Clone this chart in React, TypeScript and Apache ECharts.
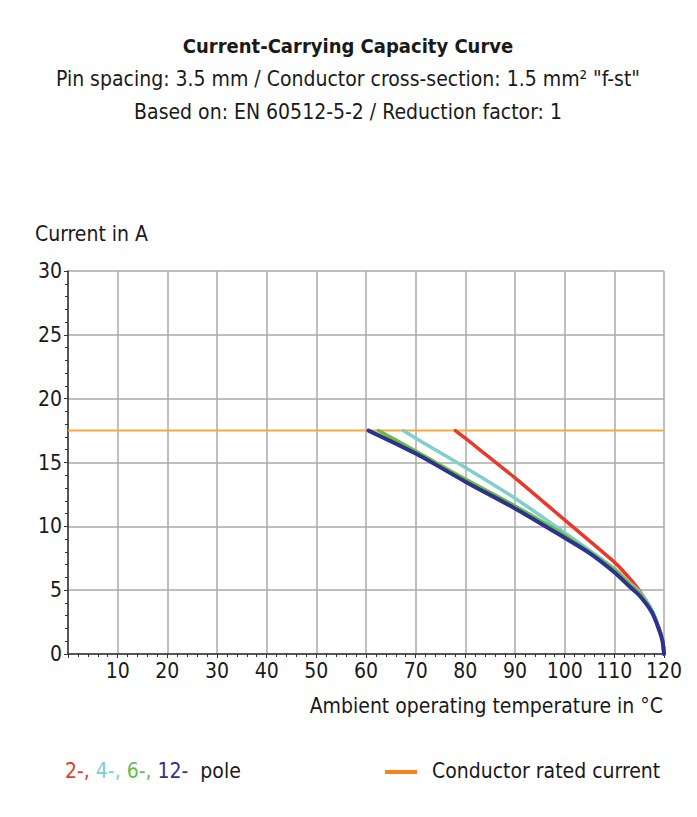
import React, { useEffect, useRef } from "react";
import * as echarts from "echarts";

const FONT = "'Liberation Sans Narrow', 'DejaVu Sans Condensed', 'Roboto', sans-serif";

const titleLines = [
  "Current-Carrying Capacity Curve",
  "Pin spacing: 3.5 mm / Conductor cross-section: 1.5 mm² \"f-st\"",
  "Based on: EN 60512-5-2 / Reduction factor: 1",
];

const xTicks = [0, 10, 20, 30, 40, 50, 60, 70, 80, 90, 100, 110, 120];
const yTicks = [0, 5, 10, 15, 20, 25, 30];

const ratedCurrent = 17.5;
const ratedTemps = [0, 120];

const pole2Temps = [78, 80, 90, 100, 110, 112, 115, 117.5, 119, 119.7, 120];
const pole2Current = [17.5, 16.9, 13.8, 10.5, 7.2, 6.4, 5.0, 3.4, 2.0, 1.1, 0];

const pole4Temps = [67.5, 70, 80, 90, 100, 110, 113, 115, 117.5, 119, 119.7, 120];
const pole4Current = [17.5, 16.9, 14.6, 12.2, 9.5, 6.7, 5.6, 4.9, 3.5, 2.0, 1.1, 0];

const pole6Temps = [62.5, 70, 80, 90, 100, 110, 113, 115, 117.5, 119, 119.7, 120];
const pole6Current = [17.5, 15.9, 13.7, 11.6, 9.3, 6.6, 5.5, 4.8, 3.4, 2.0, 1.1, 0];

const pole12Temps = [60.5, 70, 80, 90, 100, 105, 110, 113, 115, 117.5, 119, 119.7, 120];
const pole12Current = [17.5, 15.7, 13.5, 11.4, 9.1, 7.9, 6.4, 5.3, 4.6, 3.3, 1.9, 1.0, 0];

const zip = (xs: number[], ys: number[]) => xs.map((x, i) => [x, ys[i]]);

export default function App() {
  const ref = useRef<HTMLDivElement>(null);
  useEffect(() => {
    if (!ref.current) return;
    const chart = echarts.init(ref.current, null, { renderer: "svg" });
    const lineSeries = (name: string, data: number[][], color: string, width: number) => ({
      name,
      type: "line",
      data,
      smooth: 0.3,
      showSymbol: false,
      symbol: "none",
      lineStyle: { color, width, cap: "round" },
      z: 3,
    });
    chart.setOption({
      animation: false,
      backgroundColor: "#ffffff",
      textStyle: { fontFamily: FONT },
      grid: { left: 68, right: 33, top: 271, bottom: 163, containLabel: false },
      xAxis: {
        type: "value",
        min: xTicks[0],
        max: xTicks[xTicks.length - 1],
        interval: 10,
        axisLine: { show: true, lineStyle: { color: "#333", width: 1.5 } },
        axisTick: { show: true, length: 4, lineStyle: { color: "#333" } },
        minorTick: { show: true, splitNumber: 5, length: 3, lineStyle: { color: "#333" } },
        splitLine: { show: true, lineStyle: { color: "#aaaaaa", width: 1.5 } },
        axisLabel: {
          showMinLabel: false,
          color: "#1a1a1a",
          fontSize: 21,
          fontFamily: FONT,
          margin: 6,
        },
      },
      yAxis: {
        type: "value",
        min: yTicks[0],
        max: yTicks[yTicks.length - 1],
        interval: 5,
        axisLine: { show: true, lineStyle: { color: "#333", width: 1.5 } },
        axisTick: { show: true, length: 4, lineStyle: { color: "#333" } },
        minorTick: { show: true, splitNumber: 5, length: 3, lineStyle: { color: "#333" } },
        splitLine: { show: true, lineStyle: { color: "#aaaaaa", width: 1.5 } },
        axisLabel: { color: "#1a1a1a", fontSize: 21, fontFamily: FONT, margin: 6 },
      },
      series: [
        {
          name: "Conductor rated current",
          type: "line",
          data: ratedTemps.map((t) => [t, ratedCurrent]),
          showSymbol: false,
          symbol: "none",
          lineStyle: { color: "#f6a945", width: 2 },
          z: 2,
        },
        lineSeries("2-pole", zip(pole2Temps, pole2Current), "#e8392b", 3.5),
        lineSeries("4-pole", zip(pole4Temps, pole4Current), "#7fcfd0", 3.5),
        lineSeries("6-pole", zip(pole6Temps, pole6Current), "#6cbb48", 3.5),
        lineSeries("12-pole", zip(pole12Temps, pole12Current), "#2e3190", 4),
      ],
      graphic: [
        {
          type: "text",
          x: 348,
          y: 46,
          style: {
            text: titleLines[0],
            fontFamily: FONT,
            fontSize: 20,
            fontWeight: "bold",
            fill: "#1a1a1a",
            align: "center",
            verticalAlign: "middle",
          },
        },
        {
          type: "text",
          x: 348,
          y: 79,
          style: {
            text: titleLines[1],
            fontFamily: FONT,
            fontSize: 21,
            fill: "#1a1a1a",
            align: "center",
            verticalAlign: "middle",
          },
        },
        {
          type: "text",
          x: 348,
          y: 112,
          style: {
            text: titleLines[2],
            fontFamily: FONT,
            fontSize: 21,
            fill: "#1a1a1a",
            align: "center",
            verticalAlign: "middle",
          },
        },
        {
          type: "text",
          x: 35,
          y: 234,
          style: {
            text: "Current in A",
            fontFamily: FONT,
            fontSize: 21,
            fill: "#1a1a1a",
            align: "left",
            verticalAlign: "middle",
          },
        },
        {
          type: "text",
          x: 663,
          y: 706,
          style: {
            text: "Ambient operating temperature in °C",
            fontFamily: FONT,
            fontSize: 21,
            fill: "#1a1a1a",
            align: "right",
            verticalAlign: "middle",
          },
        },
        {
          type: "text",
          x: 65,
          y: 771,
          style: {
            text: "{r|2-,} {c|4-,} {g|6-,} {b|12-}  {k|pole}",
            fontFamily: FONT,
            fontSize: 21,
            verticalAlign: "middle",
            rich: {
              r: { fill: "#e8392b", fontSize: 21, fontFamily: FONT },
              c: { fill: "#7fcfd0", fontSize: 21, fontFamily: FONT },
              g: { fill: "#6cbb48", fontSize: 21, fontFamily: FONT },
              b: { fill: "#2e3190", fontSize: 21, fontFamily: FONT },
              k: { fill: "#1a1a1a", fontSize: 21, fontFamily: FONT },
            },
          },
        },
        {
          type: "rect",
          shape: { x: 385, y: 770, width: 32, height: 4 },
          style: { fill: "#f4821f" },
        },
        {
          type: "text",
          x: 432,
          y: 771,
          style: {
            text: "Conductor rated current",
            fontFamily: FONT,
            fontSize: 21,
            fill: "#1a1a1a",
            align: "left",
            verticalAlign: "middle",
          },
        },
      ],
    });
    return () => chart.dispose();
  }, []);
  return (
    <div
      ref={ref}
      style={{ position: "fixed", left: 0, top: 0, width: 697, height: 817 }}
    />
  );
}
